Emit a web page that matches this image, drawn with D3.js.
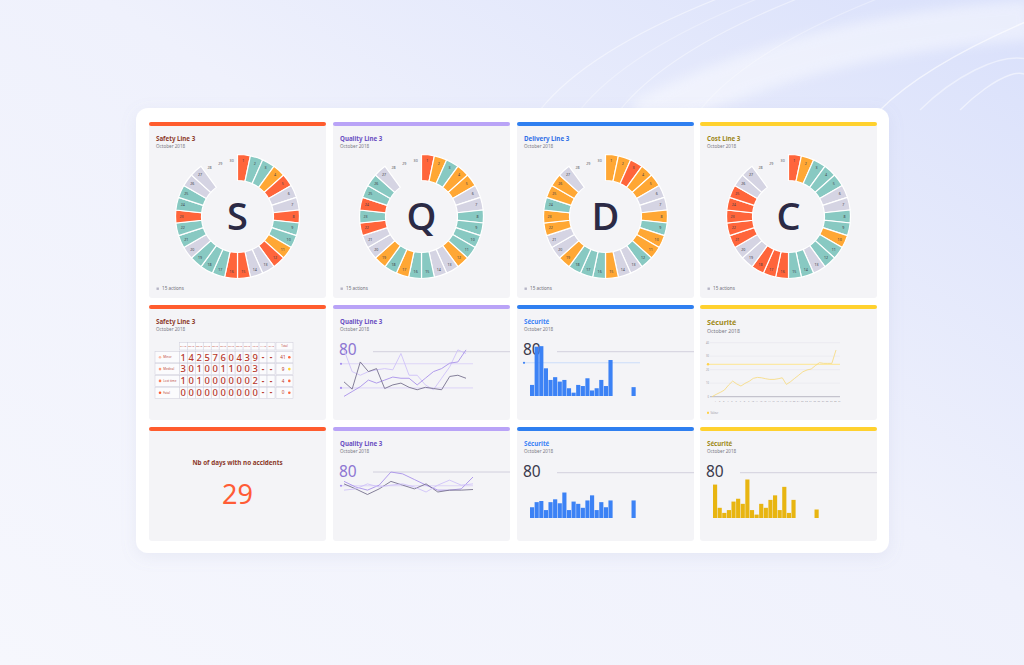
<!DOCTYPE html>
<html>
<head>
<meta charset="utf-8">
<script src="https://cdn.jsdelivr.net/npm/d3@7"></script>
<style>
  html, body { margin: 0; padding: 0; background: #f2f3fb; }
  svg { display: block; font-family: "Noto Sans", "Open Sans", sans-serif; }
</style>
</head>
<body>
<div id="chart"></div>
<script>
// ---- data ----
const wheelDays = [1,2,3,4,5,6,7,8,9,10,11,12,13,14,15,16,17,18,19,20,21,22,23,24,25,26,27,28,29,30];
// r = red, o = orange, t = teal, g = grey (no data)
const safetyStatus   = ['r','t','t','o','r','g','g','r','t','t','o','r','g','g','r','r','t','t','t','g','t','t','r','t','t','g','g'];
const qualityStatus  = ['r','o','t','o','o','g','g','t','t','t','t','o','g','g','t','t','o','t','o','g','g','r','t','r','t','t','g'];
const deliveryStatus = ['o','o','r','o','o','g','g','o','t','o','o','t','g','g','o','t','t','t','o','g','g','o','o','t','o','o','g'];
const costStatus     = ['r','o','t','t','t','g','g','t','t','o','t','t','g','t','t','r','r','r','g','g','r','r','r','r','r','g','g'];
const actionsLabel = '15 actions';

const tableDays = ['01/10','02/10','03/10','04/10','05/10','06/10','07/10','08/10','09/10','10/10','11/10','12/10'];
const tableRows = ['Minor', 'Medical', 'Lost time', 'Fatal'];
const tableMinor   = [1,4,2,5,7,6,0,4,3,9,null,null];
const tableMedical = [3,0,1,0,0,1,1,0,0,3,null,null];
const tableLost    = [1,0,1,0,0,0,0,0,0,2,null,null];
const tableFatal   = [0,0,0,0,0,0,0,0,0,0,null,null];
const tableTotals  = [41, 9, 4, 0];

const qualityA = [83,47,41,47,50,52,50,77,41,41,25,17,36,55,83,77];
const qualityB = [6,14,22,33,28,33,38,36,36,25,36,47,52,61,63,83];
const qualityC = [30,18,63,47,52,19,25,28,21,17,21,19,17,39,41,36];
const qualityTargets = [60, 20];

const quality2D = [65,56,51,59,80,77,68,59,51,51,53,72];
const quality2E = [61,53,44,53,65,59,53,61,48,51,51,52];
const quality2F = [51,53,61,56,59,61,56,48,59,67,59,61];
const quality2Target = [58];

const barDays = [1,2,3,4,5,6,7,8,9,10,11,12,13,14,15,16,17,18,19,20,21,22,23,24,25,26,27,28,29,30,31];
const securiteBlue1 = [20,89,90,50,29,34,26,29,14,6,20,18,32,10,14,29,18,65,null,null,null,null,16];
const securiteBlue2 = [19,28,30,14,28,33,26,45,14,29,25,18,31,40,14,28,19,31,null,null,null,null,31];
const securiteGold  = [59,18,9,14,29,34,25,68,14,6,25,18,32,40,14,55,9,32,null,null,null,null,15];
const blueTarget = 60;

const securiteLine = [0,1.7,3.2,4.9,8.6,11.6,9.4,7.9,9.9,11.4,13.6,14.3,14,13.3,12.8,12.8,13.3,14,9.1,11.1,13.6,16,18.5,19.8,20.5,23,25.2,24.7,24.7,24.7,34.6];
const securiteLineTicks = [0,10,20,30,40];
const securiteLineTarget = 24;

const noAccidentDays = 29;

// ---- setup ----
const W = 1024, H = 665;
const statusColor = { r: '#ff653b', o: '#ffa734', t: '#88c9c2', g: '#d5d4e3' };

const svg = d3.select('#chart').append('svg')
  .attr('width', W)
  .attr('height', H);

const defs = svg.append('defs');
const bgGrad = defs.append('linearGradient').attr('id', 'bgGrad')
  .attr('x1', '0').attr('y1', '1').attr('x2', '1').attr('y2', '0');
bgGrad.append('stop').attr('offset', '0%').attr('stop-color', '#f6f7fd');
bgGrad.append('stop').attr('offset', '55%').attr('stop-color', '#eff1fc');
bgGrad.append('stop').attr('offset', '100%').attr('stop-color', '#d9e0fb');
const blur = defs.append('filter').attr('id', 'soft').attr('x', '-20%').attr('y', '-20%').attr('width', '140%').attr('height', '140%');
blur.append('feGaussianBlur').attr('stdDeviation', 6);
const shadow = defs.append('filter').attr('id', 'shadow').attr('x', '-5%').attr('y', '-5%').attr('width', '110%').attr('height', '115%');
shadow.append('feDropShadow').attr('dx', 0).attr('dy', 4).attr('stdDeviation', 8)
  .attr('flood-color', '#8890c0').attr('flood-opacity', 0.12);

svg.append('rect').attr('width', W).attr('height', H).attr('fill', 'url(#bgGrad)');

// decorative swooshes
const deco = svg.append('g');
deco.append('path')
  .attr('d', 'M 640 120 C 760 60, 880 30, 1030 20')
  .attr('fill', 'none').attr('stroke', '#ffffff').attr('stroke-width', 40)
  .attr('opacity', 0.45).attr('filter', 'url(#soft)');
[[540, 0.45], [580, 0.3], [620, 0.4], [700, 0.3]].forEach(([x0, op]) => {
  deco.append('path')
    .attr('d', `M ${x0} 110 C ${x0 + 40} 60, ${x0 + 120} 20, ${x0 + 200} -10`)
    .attr('fill', 'none').attr('stroke', '#ffffff').attr('stroke-width', 1.2).attr('opacity', op);
});
[[880, 0.6], [920, 0.45], [960, 0.5]].forEach(([x0, op]) => {
  deco.append('path')
    .attr('d', `M ${x0} 110 C ${x0 + 30} 80, ${x0 + 80} 50, 1030 ${x0 - 860}`)
    .attr('fill', 'none').attr('stroke', '#ffffff').attr('stroke-width', 1.5).attr('opacity', op);
});

// main card
svg.append('rect')
  .attr('x', 136).attr('y', 108).attr('width', 753).attr('height', 445)
  .attr('rx', 12).attr('fill', '#ffffff').attr('filter', 'url(#shadow)');

const colX = [149, 333, 517, 700];
const colW = 177;
const rowY = [122, 305, 427];
const rowH = [176, 115, 114];

function panel(ci, ri, color, title, titleColor, sub) {
  const x = colX[ci], y = rowY[ri];
  const g = svg.append('g').attr('transform', `translate(${x},${y})`);
  g.append('rect').attr('width', colW).attr('height', rowH[ri]).attr('rx', 3).attr('fill', '#f4f4f7');
  g.append('rect').attr('width', colW).attr('height', 4).attr('rx', 2).attr('fill', color);
  if (title) {
    g.append('text').attr('x', 7).attr('y', 18.6)
      .attr('font-size', 6.2).attr('font-weight', 700).attr('fill', titleColor).text(title);
    g.append('text').attr('x', 7).attr('y', 25.8)
      .attr('font-size', 4.6).attr('fill', '#7a7a86').text(sub);
  }
  return g;
}

// ---- wheels ----
function drawWheel(g, status, letter) {
  const cx = colW / 2, cy = 94.5;
  const w = g.append('g').attr('transform', `translate(${cx},${cy})`);
  const ang = d3.scaleBand().domain(wheelDays).range([0, 2 * Math.PI]);
  const arc = d3.arc().innerRadius(36).outerRadius(62)
    .startAngle(d => ang(d)).endAngle(d => ang(d) + ang.bandwidth());
  const filled = wheelDays.slice(0, status.length);
  w.selectAll('path.seg').data(filled).join('path')
    .attr('class', 'seg')
    .attr('d', arc)
    .attr('fill', (d, i) => statusColor[status[i]])
    .attr('stroke', '#ffffff').attr('stroke-width', 1.2);
  const mid = d => ang(d) + ang.bandwidth() / 2;
  w.selectAll('text.lbl').data(wheelDays).join('text')
    .attr('class', 'lbl')
    .attr('x', d => 56 * Math.sin(mid(d)))
    .attr('y', d => -56 * Math.cos(mid(d)))
    .attr('dy', '0.35em')
    .attr('text-anchor', 'middle')
    .attr('font-size', 3.6)
    .attr('fill', (d, i) => i < status.length ? '#3d3d48' : '#55555f')
    .text(d => d);
  w.append('text').attr('y', 13.6).attr('text-anchor', 'middle')
    .attr('font-family', '"Open Sans", "Noto Sans", sans-serif')
    .attr('font-size', 38).attr('font-weight', 600).attr('fill', '#2b2a45').text(letter);
  g.append('rect').attr('x', 7.5).attr('y', 165.5).attr('width', 2.4).attr('height', 2.4).attr('fill', '#b6b5c6');
  g.append('text').attr('x', 13).attr('y', 168.3).attr('font-size', 4.6).attr('fill', '#6f6f7a').text(actionsLabel);
}

drawWheel(panel(0, 0, '#ff5c2e', 'Safety Line 3', '#8c3a2a', 'October 2018'), safetyStatus, 'S');
drawWheel(panel(1, 0, '#b9a3f7', 'Quality Line 3', '#6a4fc2', 'October 2018'), qualityStatus, 'Q');
drawWheel(panel(2, 0, '#2f7ff0', 'Delivery Line 3', '#2f6fe6', 'October 2018'), deliveryStatus, 'D');
drawWheel(panel(3, 0, '#ffd12e', 'Cost Line 3', '#9a8416', 'October 2018'), costStatus, 'C');

// ---- table ----
(function () {
  const g = panel(0, 1, '#ff5c2e', 'Safety Line 3', '#8c3a2a', 'October 2018');
  const x0 = 6;
  const colScale = d3.scaleBand().domain(tableDays).range([30.3, 126]);
  const rowScale = d3.scaleBand().domain(tableRows).range([46.7, 93.3]).paddingInner(0.06);
  const rowVals = [tableMinor, tableMedical, tableLost, tableFatal];
  const labelDot = ['#ffbba6', '#ff9a78', '#ff7d55', '#ff5a30'];
  const totalDot = ['#ff653b', '#ffd12e', '#ff653b', '#ff653b'];
  const stroke = '#cdccda';
  const t = g.append('g');
  // header
  t.selectAll('rect.h').data(tableDays).join('rect')
    .attr('x', d => colScale(d)).attr('y', 37.7)
    .attr('width', colScale.bandwidth()).attr('height', 7.3)
    .attr('fill', '#fbfbfd').attr('stroke', stroke).attr('stroke-width', 0.5);
  t.selectAll('text.h').data(tableDays).join('text')
    .attr('x', d => colScale(d) + colScale.bandwidth() / 2).attr('y', 42.2)
    .attr('text-anchor', 'middle').attr('font-size', 2.2).attr('fill', '#c0463a').text(d => d);
  t.append('rect').attr('x', 127).attr('y', 37.7).attr('width', 17).attr('height', 7.3)
    .attr('fill', '#fbfbfd').attr('stroke', stroke).attr('stroke-width', 0.5);
  t.append('text').attr('x', 135.5).attr('y', 42.4).attr('text-anchor', 'middle')
    .attr('font-size', 2.8).attr('fill', '#c0463a').text('Total');

  tableRows.forEach((r, ri) => {
    const ry = rowScale(r), rh = rowScale.bandwidth();
    t.append('rect').attr('x', x0).attr('y', ry).attr('width', 24.3).attr('height', rh)
      .attr('fill', '#fbfbfd').attr('stroke', stroke).attr('stroke-width', 0.5);
    t.append('circle').attr('cx', x0 + 5).attr('cy', ry + rh / 2).attr('r', 1.3).attr('fill', labelDot[ri]);
    t.append('text').attr('x', x0 + 8.3).attr('y', ry + rh / 2 + 1).attr('font-size', 3)
      .attr('fill', '#c0463a').text(r);
    t.selectAll(null).data(tableDays).join('rect')
      .attr('x', d => colScale(d)).attr('y', ry)
      .attr('width', colScale.bandwidth()).attr('height', rh)
      .attr('fill', '#fbfbfd').attr('stroke', stroke).attr('stroke-width', 0.5);
    t.selectAll(null).data(rowVals[ri]).join('text')
      .attr('x', (d, i) => colScale(tableDays[i]) + colScale.bandwidth() / 2)
      .attr('y', d => ry + rh / 2 + (d === null ? 2.6 : 3.4))
      .attr('text-anchor', 'middle')
      .attr('font-size', d => d === null ? 8 : 9.4)
      .attr('font-weight', d => d === null ? 700 : 500)
      .attr('fill', '#b8392c')
      .text(d => d === null ? '-' : d);
    t.append('rect').attr('x', 127).attr('y', ry).attr('width', 17).attr('height', rh)
      .attr('fill', '#fbfbfd').attr('stroke', stroke).attr('stroke-width', 0.5);
    t.append('text').attr('x', 134).attr('y', ry + rh / 2 + 1.6).attr('text-anchor', 'middle')
      .attr('font-size', 4.6).attr('fill', '#b8392c').text(tableTotals[ri]);
    t.append('circle').attr('cx', 140.3).attr('cy', ry + rh / 2).attr('r', 1.3).attr('fill', totalDot[ri]);
  });
})();

// ---- quality line charts ----
function lineChart(g, series, colors, targets, xr, yr, labelColor, labelY) {
  const x = d3.scaleLinear().domain([0, series[0].length - 1]).range(xr);
  const y = d3.scaleLinear().domain([0, 80]).range(yr);
  g.append('text').attr('x', 6).attr('y', labelY).attr('font-size', 15.5)
    .attr('fill', labelColor).text('80');
  g.append('line').attr('x1', 40).attr('x2', colW).attr('y1', y(80)).attr('y2', y(80))
    .attr('stroke', '#c9c7d7').attr('stroke-width', 0.8);
  targets.forEach(tv => {
    g.append('line').attr('x1', 8).attr('x2', 140).attr('y1', y(tv)).attr('y2', y(tv))
      .attr('stroke', '#d2c6f7').attr('stroke-width', 0.7);
    g.append('circle').attr('cx', 8).attr('cy', y(tv)).attr('r', 1.1).attr('fill', '#a58df0');
  });
  const line = d3.line().x((d, i) => x(i)).y(d => y(d));
  series.forEach((s, si) => {
    g.append('path').datum(s).attr('d', line)
      .attr('fill', 'none').attr('stroke', colors[si]).attr('stroke-width', 0.9);
  });
}

lineChart(panel(1, 1, '#b9a3f7', 'Quality Line 3', '#6a4fc2', 'October 2018'),
  [qualityA, qualityB, qualityC], ['#cfc2f8', '#a992ea', '#77728f'], qualityTargets,
  [11, 133], [95, 46.7], '#8d76d2', 50);
lineChart(panel(1, 2, '#b9a3f7', 'Quality Line 3', '#6a4fc2', 'October 2018'),
  [quality2D, quality2E, quality2F], ['#a992ea', '#77728f', '#cfc2f8'], quality2Target,
  [11, 140], [95, 45], '#8d76d2', 49.5);

// ---- bar charts ----
function barChart(g, values, color, target, yr, labelY) {
  const x = d3.scaleBand().domain(barDays).range([13, 13 + 31 * 4.6]).paddingInner(0.1);
  const y = d3.scaleLinear().domain([0, 80]).range(yr);
  g.append('text').attr('x', 6).attr('y', labelY).attr('font-size', 15.5)
    .attr('fill', '#3a3a4c').text('80');
  g.append('line').attr('x1', 40).attr('x2', colW).attr('y1', y(80)).attr('y2', y(80))
    .attr('stroke', '#c9c7d7').attr('stroke-width', 0.8);
  if (target !== null) {
    g.append('line').attr('x1', 7).attr('x2', 123).attr('y1', y(target)).attr('y2', y(target))
      .attr('stroke', '#b9d3fb').attr('stroke-width', 0.7);
    g.append('circle').attr('cx', 7).attr('cy', y(target)).attr('r', 1.1).attr('fill', color);
  }
  const data = values.map((v, i) => ({ day: barDays[i], v })).filter(d => d.v !== null);
  g.selectAll('rect.bar').data(data).join('rect')
    .attr('class', 'bar')
    .attr('x', d => x(d.day)).attr('width', x.bandwidth())
    .attr('y', d => y(d.v)).attr('height', d => y(0) - y(d.v))
    .attr('fill', color);
}

barChart(panel(2, 1, '#2f7ff0', 'Sécurité', '#3b82f6', 'October 2018'), securiteBlue1, '#3c82f5', blueTarget, [91, 46.7], 50);
barChart(panel(2, 2, '#2f7ff0', 'Sécurité', '#3b82f6', 'October 2018'), securiteBlue2, '#3c82f5', null, [91, 45.7], 50);
barChart(panel(3, 2, '#ffd12e', 'Sécurité', '#a08a18', 'October 2018'), securiteGold, '#e8b511', null, [91, 45.7], 50);

// ---- sécurité line chart ----
(function () {
  const g = panel(3, 1, '#ffd12e', null, null, null);
  g.append('text').attr('x', 7).attr('y', 20).attr('font-size', 7.2).attr('font-weight', 700)
    .attr('fill', '#a08a18').text('Sécurité');
  g.append('text').attr('x', 7).attr('y', 28.3).attr('font-size', 5.2).attr('fill', '#7a7a86').text('October 2018');
  const x = d3.scalePoint().domain(barDays).range([12, 136]);
  const y = d3.scaleLinear().domain([0, 40]).range([91.7, 37.7]);
  g.selectAll('line.grid').data(securiteLineTicks).join('line')
    .attr('x1', 10).attr('x2', 140).attr('y1', d => y(d)).attr('y2', d => y(d))
    .attr('stroke', d => d === 0 ? '#a9a8b5' : '#e4e3ea').attr('stroke-width', d => d === 0 ? 0.8 : 0.5);
  g.selectAll('text.yt').data(securiteLineTicks).join('text')
    .attr('x', 9).attr('y', d => y(d) + 0.8).attr('text-anchor', 'end')
    .attr('font-size', 2.6).attr('fill', '#9b9aa6').text(d => d);
  g.selectAll('text.xt').data(barDays).join('text')
    .attr('x', d => x(d) + 3.5).attr('y', 96.5).attr('text-anchor', 'middle')
    .attr('font-size', 2.3).attr('fill', '#9b9aa6').text(d => d);
  g.append('line').attr('x1', 8).attr('x2', 140)
    .attr('y1', y(securiteLineTarget)).attr('y2', y(securiteLineTarget))
    .attr('stroke', '#ffe486').attr('stroke-width', 0.9);
  g.append('circle').attr('cx', 8).attr('cy', y(securiteLineTarget)).attr('r', 1.2).attr('fill', '#ffd24a');
  const line = d3.line().x((d, i) => x(barDays[i])).y(d => y(d));
  g.append('path').datum(securiteLine).attr('d', line)
    .attr('fill', 'none').attr('stroke', '#f7d978').attr('stroke-width', 0.8);
  g.append('rect').attr('x', 7).attr('y', 106.8).attr('width', 2).attr('height', 2).attr('fill', '#ffd24a');
  g.append('text').attr('x', 10.5).attr('y', 108.6).attr('font-size', 2.6).attr('fill', '#9b9aa6').text('Valeur');
})();

// ---- no accident counter ----
(function () {
  const g = panel(0, 2, '#ff5c2e', null, null, null);
  g.append('text').attr('x', colW / 2).attr('y', 38).attr('text-anchor', 'middle')
    .attr('font-size', 6.3).attr('font-weight', 700).attr('fill', '#8c3a2a')
    .text('Nb of days with no accidents');
  g.append('text').attr('x', colW / 2).attr('y', 76.5).attr('text-anchor', 'middle')
    .attr('font-size', 27).attr('fill', '#ff5c36').text(noAccidentDays);
})();
</script>
</body>
</html>
